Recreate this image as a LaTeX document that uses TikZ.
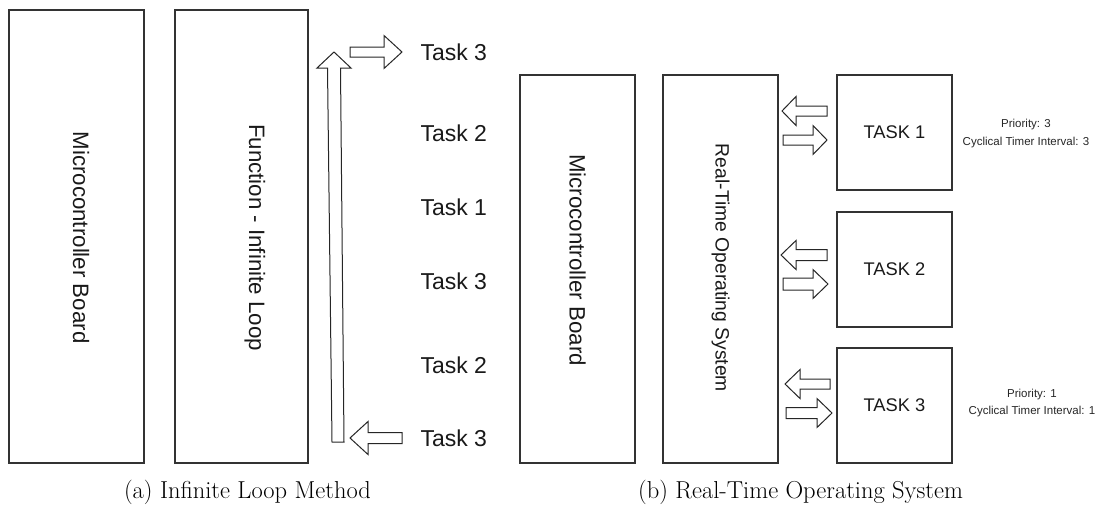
\documentclass[tikz,border=0pt]{standalone}
\usepackage{fontspec}
\newfontfamily\arial{Liberation Sans}
\tikzset{
  box/.style={draw=black!80, line width=1.1pt, inner sep=0pt, fill=none},
  blk/.style={draw=black!85, line width=1pt, line join=miter, fill=white},
  sans/.style={font=\arial\fontsize{#1}{#1}\selectfont, text=black!90},
  vtext/.style={sans=#1, rotate=-90, anchor=base, inner sep=0pt},
  captxt/.style={font=\fontsize{24.5}{29}\selectfont, text=black},
}
% horizontal block arrow: tail x, head base x, tip x, y, shaft half, head half
\newcommand{\hblk}[6]{%
  \draw[blk] (#1,#4-#5) -- (#2,#4-#5) -- (#2,#4-#6) -- (#3,#4) -- (#2,#4+#6) -- (#2,#4+#5) -- (#1,#4+#5) -- cycle;}
\begin{document}
\begin{tikzpicture}[x=1pt,y=-1pt]
\useasboundingbox (0,0) rectangle (1098,509);
% ---------- (a) ----------
\node[box, minimum width=135pt, minimum height=453pt] (mcA) at (76.5,236.5) {};
\node[vtext=22.3] (mcAt) at (73,237.5) {Microcontroller Board};
\node[box, minimum width=133pt, minimum height=453pt] (fn) at (241.5,236.5) {};
\node[vtext=22.3] (fnt) at (249,237.5) {Function - Infinite Loop};
% long up arrow
\draw[blk] (332,442) -- (344,442) -- (340.5,68) -- (351,68) -- (334,52) -- (317,68) -- (327.5,68) -- cycle;
\hblk{350}{384}{402}{52}{5}{16.5}
\hblk{402}{368}{350}{438}{5.5}{16.5}
\node[sans=23, anchor=west] (t3a) at (417,52) {Task 3};
\node[sans=23, anchor=west] (t2a) at (417,133) {Task 2};
\node[sans=23, anchor=west] (t1a) at (417,207) {Task 1};
\node[sans=23, anchor=west] (t3b) at (417,281) {Task 3};
\node[sans=23, anchor=west] (t2b) at (417,365) {Task 2};
\node[sans=23, anchor=west] (t3c) at (417,438) {Task 3};
\node[captxt] (capa) at (247.5,492) {(a)\ Infinite Loop Method};
% ---------- (b) ----------
\node[box, minimum width=115pt, minimum height=388pt] (mcB) at (577.5,269) {};
\node[vtext=22.3] (mcBt) at (569.5,260) {Microcontroller Board};
\node[box, minimum width=115pt, minimum height=388pt] (rtos) at (720.5,269) {};
\node[vtext=19.3] (rtost) at (715.5,268) {Real-Time Operating System};
\node[box, minimum width=115pt, minimum height=115pt, sans=18.3] (task1) at (894.5,132.5) {TASK 1};
\node[box, minimum width=115pt, minimum height=115pt, sans=18.3] (task2) at (894.5,269.5) {TASK 2};
\node[box, minimum width=115pt, minimum height=115pt, sans=18.3] (task3) at (894.5,405.5) {TASK 3};
\hblk{827}{796}{782}{111}{5}{14.5}
\hblk{783}{813}{827}{140}{5}{14.5}
\hblk{827}{796}{781}{255}{5.5}{14.5}
\hblk{783}{813}{828}{284}{6}{14.5}
\hblk{830}{800}{785}{384}{5}{14.5}
\hblk{786}{817}{832}{413}{5.5}{14.5}
\node[font=\arial\fontsize{11.5}{18}\selectfont, text=black!85, align=center] (p1) at (1026,134) {Priority: 3\\Cyclical Timer Interval: 3};
\node[font=\arial\fontsize{11.5}{17}\selectfont, text=black!85, align=center] (p3) at (1032,403.5) {Priority: 1\\Cyclical Timer Interval: 1};
\node[captxt, anchor=west, inner sep=0pt] (capb) at (638,492) {(b)\ Real-Time Operating System};
\end{tikzpicture}
\end{document}
